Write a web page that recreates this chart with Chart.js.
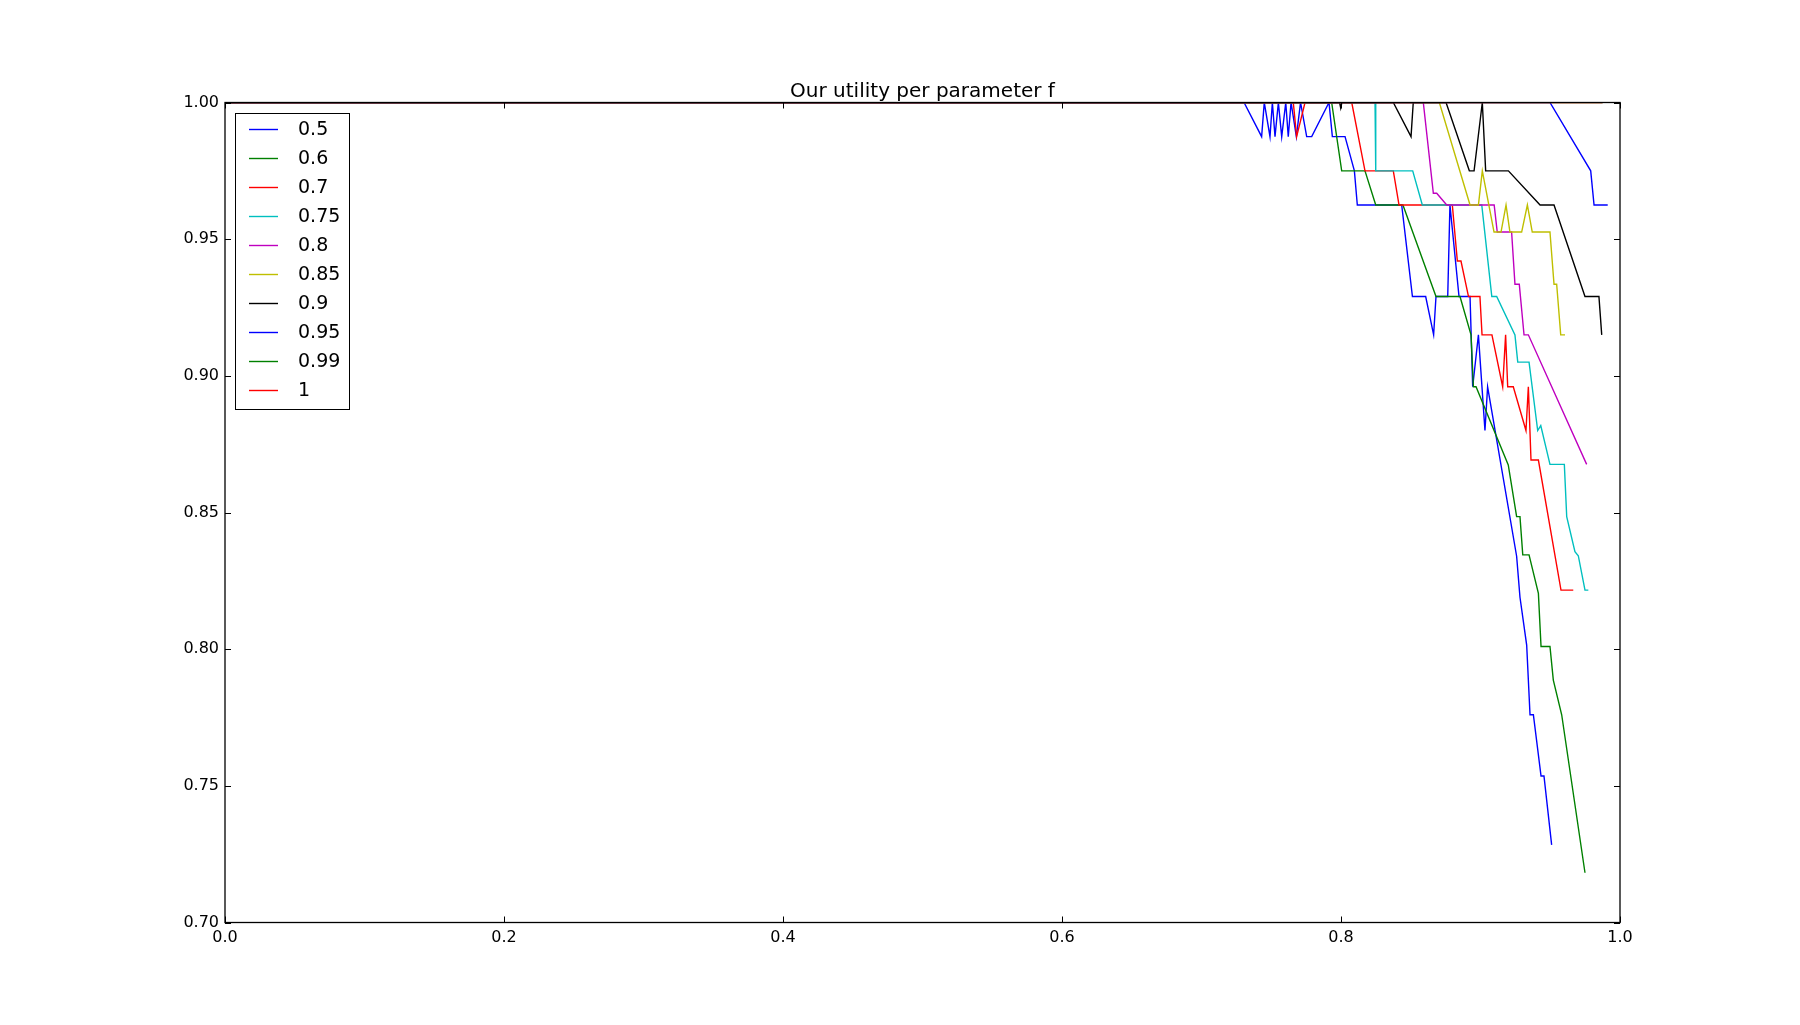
<!DOCTYPE html>
<html lang="en">
<head>
    <meta charset="UTF-8">
    <title>Our utility per parameter f</title>
    <style>
        body {
            margin: 0;
            padding: 0;
            background: #fff;
        }
        canvas {
            display: block;
        }
    </style>
</head>
<body>
    <canvas id="utilityChart" width="1800" height="1025"></canvas>

    <script src="https://cdn.jsdelivr.net/npm/chart.js"></script>
    <script>
        // parameter values (legend) and line colours
        const params = ['0.5', '0.6', '0.7', '0.75', '0.8', '0.85', '0.9', '0.95', '0.99', '1'];
        const colors = ['#0000ff', '#008000', '#ff0000', '#00bfbf', '#bf00bf', '#bfbf00', '#000000', '#0000ff', '#008000', '#ff0000'];

        // tick labels
        const xTicks = [0.0, 0.2, 0.4, 0.6, 0.8, 1.0];
        const yTicks = [0.70, 0.75, 0.80, 0.85, 0.90, 0.95, 1.00];

        // f = 0.5
        const x05 = [0, 0.7305, 0.7431, 0.7450, 0.7491, 0.7508, 0.7527, 0.7551, 0.7575, 0.7604, 0.7622, 0.7642, 0.7680, 0.7710, 0.7754, 0.7790, 0.7914, 0.7938, 0.8029, 0.8096, 0.8117, 0.8435, 0.8512, 0.8607, 0.8664, 0.8681, 0.8765, 0.8781, 0.8846, 0.8925, 0.8944, 0.8985, 0.9032, 0.9051, 0.9259, 0.9283, 0.9331, 0.9355, 0.9379, 0.9434, 0.9455, 0.9510];
        const y05 = [1, 1, 0.9875, 1, 0.9875, 1, 0.9875, 1, 0.9875, 1, 0.9875, 1, 0.9875, 1, 0.9875, 0.9875, 1, 0.9875, 0.9875, 0.975, 0.9625, 0.9625, 0.929, 0.929, 0.915, 0.929, 0.929, 0.9625, 0.929, 0.929, 0.896, 0.915, 0.880, 0.896, 0.834, 0.819, 0.8015, 0.776, 0.776, 0.7536, 0.7536, 0.7284];

        // f = 0.6
        const x06 = [0, 0.7933, 0.8005, 0.8172, 0.8249, 0.8444, 0.8681, 0.8853, 0.8932, 0.8949, 0.8968, 0.9199, 0.9259, 0.9283, 0.9303, 0.9348, 0.9415, 0.9434, 0.9498, 0.9522, 0.9582, 0.9749];
        const y06 = [1, 1, 0.975, 0.975, 0.9625, 0.9625, 0.929, 0.929, 0.915, 0.896, 0.896, 0.8674, 0.8485, 0.8485, 0.8345, 0.8345, 0.8204, 0.801, 0.801, 0.7887, 0.776, 0.7182];

        // f = 0.7
        const x07 = [0, 0.7658, 0.7682, 0.7742, 0.8077, 0.8172, 0.8375, 0.8416, 0.8798, 0.8834, 0.8860, 0.8914, 0.8996, 0.9011, 0.9082, 0.9159, 0.9180, 0.9195, 0.9235, 0.9326, 0.9343, 0.9362, 0.9415, 0.9577, 0.9665];
        const y07 = [1, 1, 0.9875, 1, 1, 0.975, 0.975, 0.9625, 0.9625, 0.942, 0.942, 0.929, 0.929, 0.915, 0.915, 0.896, 0.915, 0.896, 0.896, 0.880, 0.896, 0.8692, 0.8692, 0.8216, 0.8216];

        // f = 0.75
        const x075 = [0, 0.8244, 0.8249, 0.8514, 0.8583, 0.9009, 0.9081, 0.9116, 0.9247, 0.9267, 0.9348, 0.9410, 0.9432, 0.9498, 0.9601, 0.9618, 0.9677, 0.9701, 0.9749, 0.9773];
        const y075 = [1, 1, 0.975, 0.975, 0.9625, 0.9625, 0.929, 0.929, 0.915, 0.905, 0.905, 0.880, 0.8818, 0.8676, 0.8676, 0.8485, 0.8357, 0.8342, 0.8216, 0.8216];

        // f = 0.8
        const x08 = [0, 0.8590, 0.8662, 0.8686, 0.8758, 0.9098, 0.9120, 0.9223, 0.9247, 0.9278, 0.9312, 0.9343, 0.9761];
        const y08 = [1, 1, 0.9668, 0.9668, 0.9625, 0.9625, 0.9526, 0.9526, 0.9335, 0.9335, 0.915, 0.915, 0.8676];

        // f = 0.85
        const x085 = [0, 0.8705, 0.8925, 0.8985, 0.9013, 0.9097, 0.9147, 0.9183, 0.9211, 0.9295, 0.9336, 0.9371, 0.9498, 0.9527, 0.9546, 0.9575, 0.9606];
        const y085 = [1, 1, 0.9625, 0.9625, 0.975, 0.9526, 0.9526, 0.9625, 0.9526, 0.9526, 0.9625, 0.9526, 0.9526, 0.9335, 0.9335, 0.915, 0.915];

        // f = 0.9
        const x09 = [0, 0.7990, 0.7998, 0.8006, 0.8375, 0.8502, 0.8518, 0.8753, 0.8920, 0.8954, 0.9013, 0.9037, 0.9200, 0.9427, 0.9527, 0.9749, 0.9849, 0.9869];
        const y09 = [1, 1, 0.998, 1, 1, 0.9875, 1, 1, 0.975, 0.975, 1, 0.975, 0.975, 0.9625, 0.9625, 0.929, 0.929, 0.915];

        // f = 0.95
        const x095 = [0, 0.9498, 0.9790, 0.9814, 0.9912];
        const y095 = [1, 1, 0.975, 0.9625, 0.9625];

        // f = 0.99 and f = 1 stay on the top edge
        const x099 = [0, 0.9875];
        const y099 = [1, 1];
        const x1 = [0, 0.9875];
        const y1 = [1, 1];

        const seriesX = [x05, x06, x07, x075, x08, x085, x09, x095, x099, x1];
        const seriesY = [y05, y06, y07, y075, y08, y085, y09, y095, y099, y1];

        const plotLeft = 225, plotRight = 1620, plotTop = 102.5, plotBottom = 922.5;
        const fontFamily = "'DejaVu Sans', sans-serif";

        const datasets = params.map((p, i) => ({
            label: p,
            data: seriesX[i].map((x, j) => ({ x: x, y: seriesY[i][j] })),
            borderColor: colors[i],
            backgroundColor: colors[i],
            borderWidth: 1.4,
            pointRadius: 0,
            showLine: true,
            fill: false,
            tension: 0,
            order: params.length - i  // later series drawn on top
        }));

        // frame, inward ticks, title and legend box
        const framePlugin = {
            id: 'frame',
            afterDatasetsDraw(chart) {
                const ctx = chart.ctx;
                const xs = chart.scales.x, ys = chart.scales.y;
                const a = chart.chartArea;
                ctx.save();
                ctx.strokeStyle = '#000';
                ctx.lineWidth = 1.3;
                ctx.strokeRect(a.left, a.top, a.right - a.left, a.bottom - a.top);
                ctx.lineWidth = 1;
                ctx.beginPath();
                xTicks.forEach(v => {
                    const px = Math.round(xs.getPixelForValue(v)) + 0.5;
                    ctx.moveTo(px, a.bottom); ctx.lineTo(px, a.bottom - 6);
                    ctx.moveTo(px, a.top); ctx.lineTo(px, a.top + 6);
                });
                yTicks.forEach(v => {
                    const py = Math.round(ys.getPixelForValue(v)) + 0.5;
                    ctx.moveTo(a.left, py); ctx.lineTo(a.left + 6, py);
                    ctx.moveTo(a.right, py); ctx.lineTo(a.right - 6, py);
                });
                ctx.stroke();
                ctx.restore();
            },
            afterDraw(chart) {
                const ctx = chart.ctx;
                const a = chart.chartArea;
                ctx.save();
                // title
                ctx.fillStyle = '#000';
                ctx.font = '20px ' + fontFamily;
                ctx.textAlign = 'center';
                ctx.textBaseline = 'alphabetic';
                ctx.fillText('Our utility per parameter f', (a.left + a.right) / 2, 96.5);

                // legend
                const bx = 235.5, by = 113.5, bw = 114, bh = 296;
                ctx.fillStyle = '#fff';
                ctx.fillRect(bx, by, bw, bh);
                ctx.strokeStyle = '#000';
                ctx.lineWidth = 1;
                ctx.strokeRect(bx, by, bw, bh);
                ctx.font = '19px ' + fontFamily;
                ctx.textAlign = 'left';
                ctx.textBaseline = 'middle';
                params.forEach((p, i) => {
                    const cy = 129.5 + i * 29;
                    ctx.strokeStyle = colors[i];
                    ctx.lineWidth = 1.4;
                    ctx.beginPath();
                    ctx.moveTo(249, cy);
                    ctx.lineTo(278, cy);
                    ctx.stroke();
                    ctx.fillStyle = '#000';
                    ctx.fillText(p, 298, cy + 1);
                });
                ctx.restore();
            }
        };

        new Chart(document.getElementById('utilityChart'), {
            type: 'scatter',
            data: { datasets: datasets },
            options: {
                responsive: false,
                animation: false,
                devicePixelRatio: 1,
                layout: {
                    padding: { left: 0, right: 1800 - plotRight, top: plotTop, bottom: 0 }
                },
                plugins: {
                    legend: { display: false },
                    tooltip: { enabled: false },
                    title: { display: false }
                },
                scales: {
                    x: {
                        type: 'linear',
                        min: 0,
                        max: 1,
                        afterFit(scale) { scale.height = 1025 - plotBottom; },
                        afterBuildTicks(scale) { scale.ticks = xTicks.map(v => ({ value: v })); },
                        ticks: {
                            callback: v => v.toFixed(1),
                            color: '#000',
                            padding: 6,
                            maxRotation: 0,
                            autoSkip: false,
                            font: { family: fontFamily, size: 16 }
                        },
                        grid: { display: false, drawTicks: false },
                        border: { display: false }
                    },
                    y: {
                        type: 'linear',
                        min: 0.7,
                        max: 1.0,
                        afterFit(scale) { scale.width = plotLeft; },
                        afterBuildTicks(scale) { scale.ticks = yTicks.map(v => ({ value: v })); },
                        ticks: {
                            callback: v => v.toFixed(2),
                            color: '#000',
                            padding: 6,
                            autoSkip: false,
                            font: { family: fontFamily, size: 16 }
                        },
                        grid: { display: false, drawTicks: false },
                        border: { display: false }
                    }
                }
            },
            plugins: [framePlugin]
        });
    </script>
</body>
</html>
